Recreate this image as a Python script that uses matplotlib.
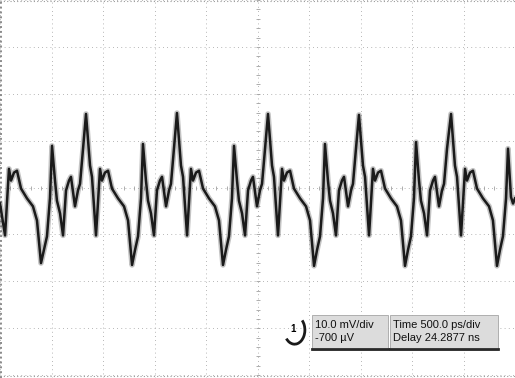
import numpy as np
import matplotlib
matplotlib.use("Agg")
import matplotlib.pyplot as plt
from matplotlib.patches import Rectangle, Arc

# scope settings
volts_per_div = 10.0   # mV/div
time_per_div = 0.5     # ns/div (500 ps/div)
n_xdiv = 10
n_ydiv = 8

# trace: time (ns) and voltage (mV, relative to screen centre)
time_ns = [
    0.000, 0.049, 0.087, 0.107, 0.136, 0.165, 0.204, 0.262, 0.320, 0.359, 0.398, 0.427, 0.456,
    0.485, 0.505, 0.534, 0.553, 0.583, 0.612, 0.641, 0.670, 0.689, 0.728, 0.757, 0.777, 0.806,
    0.835, 0.874, 0.893, 0.932, 0.971, 0.990, 1.019, 1.049, 1.087, 1.146, 1.204, 1.243, 1.282,
    1.311, 1.340, 1.369, 1.388, 1.417, 1.437, 1.466, 1.495, 1.524, 1.553, 1.573, 1.612, 1.641,
    1.660, 1.689,
    1.718, 1.757, 1.777, 1.816, 1.854, 1.874, 1.903, 1.932, 1.971, 2.029, 2.087, 2.126, 2.165,
    2.194, 2.223, 2.252, 2.272, 2.301, 2.320, 2.350, 2.379, 2.408, 2.437, 2.456, 2.495, 2.524,
    2.544, 2.573,
    2.602, 2.641, 2.660, 2.699, 2.738, 2.757, 2.786, 2.816, 2.854, 2.913, 2.971, 3.010, 3.049,
    3.078, 3.107, 3.136, 3.155, 3.184, 3.204, 3.233, 3.262, 3.291, 3.320, 3.340, 3.379, 3.408,
    3.427, 3.456,
    3.485, 3.524, 3.544, 3.583, 3.621, 3.641, 3.670, 3.699, 3.738, 3.796, 3.854, 3.893, 3.932,
    3.961, 3.990, 4.019, 4.039, 4.068, 4.087, 4.117, 4.146, 4.175, 4.204, 4.223, 4.262, 4.291,
    4.311, 4.340,
    4.379, 4.417, 4.437, 4.476, 4.515, 4.534, 4.563, 4.592, 4.631, 4.689, 4.748, 4.786, 4.825,
    4.854, 4.883, 4.913, 4.932, 4.961, 4.981, 5.000,
]
volt_mv = [
    -3.4, -10.2, 4.0, 1.5, 3.2, 3.6, -0.2, -2.3, -4.0, -7.0, -16.1, -13.3, -10.4,
    -2.3, 8.9, 1.5, -2.8, -5.5, -10.2, -0.6, 1.5, 2.3, -4.0, -0.6, 0.8, 8.3,
    15.7, 4.7, 2.3, -10.2, 4.0, 1.5, 3.2, 3.6, -0.2, -2.3, -4.0, -7.0, -16.5,
    -13.3, -10.4, -2.3, 9.3, 1.5, -2.8, -5.5, -10.2, -0.6, 1.5, 2.3, -4.0, -0.6,
    0.8, 8.3,
    15.9, 4.7, 2.3, -10.2, 4.0, 1.5, 3.2, 3.6, -0.2, -2.3, -4.0, -7.0, -16.5,
    -13.3, -10.4, -2.3, 8.9, 1.5, -2.8, -5.5, -10.2, -0.6, 1.5, 2.3, -4.0, -0.6,
    0.8, 8.3,
    15.7, 4.7, 2.3, -10.2, 4.0, 1.5, 3.2, 3.6, -0.2, -2.3, -4.0, -7.0, -16.7,
    -13.3, -10.4, -2.3, 9.3, 1.5, -2.8, -5.5, -10.2, -0.6, 1.5, 2.3, -4.0, -0.6,
    0.8, 8.3,
    15.5, 4.7, 2.3, -10.2, 4.0, 1.5, 3.2, 3.6, -0.2, -2.3, -4.0, -7.0, -16.7,
    -13.3, -10.4, -2.3, 9.7, 1.5, -2.8, -5.5, -10.2, -0.6, 1.5, 2.3, -4.0, -0.6,
    0.8, 8.3,
    15.7, 4.7, 2.3, -10.2, 4.0, 1.5, 3.2, 3.6, -0.2, -2.3, -4.0, -7.0, -16.7,
    -13.3, -10.4, -2.3, 8.3, -2.0, -3.4, -2.3,
]

readout_volt = ["10.0 mV/div", "-700 \u00b5V"]
readout_time = ["Time 500.0 ps/div", "Delay 24.2877 ns"]

fig = plt.figure(figsize=(5.15, 3.78), dpi=100)
ax = fig.add_axes([0, 0, 1, 1])
ax.set_xlim(0, n_xdiv * time_per_div)
ax.set_ylim(-n_ydiv / 2 * volts_per_div - 0.6, n_ydiv / 2 * volts_per_div)
ax.set_xticks([])
ax.set_yticks([])
for s in ax.spines.values():
    s.set_visible(False)

# graticule - faint dotted
grid_kw = dict(color="#9e9e9e", lw=0.6, ls=(0, (1, 4)), zorder=1)
for i in range(n_xdiv + 1):
    ax.axvline(i * time_per_div, **grid_kw)
for j in range(n_ydiv + 1):
    ax.axhline(-40 + j * volts_per_div, **grid_kw)
ax.axvline(0.006, color="#8a8a8a", lw=1.4, ls=(0, (1, 1.5)), zorder=1)
ax.axhline(39.8, color="#9a9a9a", lw=0.8, ls=(0, (1, 2)), zorder=1)
ax.axhline(-40.2, color="#9a9a9a", lw=0.8, ls=(0, (1, 2)), zorder=1)

# small ticks on the centre cross
tx = np.arange(0, 5.001, time_per_div / 5)
ax.plot(tx, np.zeros_like(tx), ls="none", marker="|", ms=2.5, color="#a0a0a0", mew=0.6)
ty = np.arange(-40, 40.01, volts_per_div / 5)
ax.plot(np.full_like(ty, 2.5), ty, ls="none", marker="_", ms=2.5, color="#a0a0a0", mew=0.6)

# the trace: a fuzzy band plus a darker core
ax.plot(time_ns, volt_mv, color="#555555", lw=4.0, alpha=0.35, zorder=2,
        solid_joinstyle="round")
ax.plot(time_ns, volt_mv, color="#1a1a1a", lw=1.8, zorder=3, solid_joinstyle="round")

# readout boxes
box_kw = dict(transform=ax.transAxes, facecolor="#dcdcdc", edgecolor="#a5a5a5", lw=0.6, zorder=4)
ax.add_patch(Rectangle((0.606, 0.074), 0.147, 0.093, **box_kw))
ax.add_patch(Rectangle((0.757, 0.074), 0.210, 0.093, **box_kw))
ax.plot([0.606, 0.753], [0.076, 0.076], transform=ax.transAxes, color="#2a2a2a", lw=2, zorder=5)
ax.plot([0.757, 0.967], [0.076, 0.076], transform=ax.transAxes, color="#2a2a2a", lw=2, zorder=5)

txt_kw = dict(transform=ax.transAxes, fontsize=8, family="Liberation Sans", color="#111111",
              va="center", ha="left", zorder=6)
ax.text(0.612, 0.141, readout_volt[0], **txt_kw)
ax.text(0.612, 0.106, readout_volt[1], **txt_kw)
ax.text(0.763, 0.141, readout_time[0], **txt_kw)
ax.text(0.763, 0.106, readout_time[1], **txt_kw)

# channel 1 marker
ax.text(0.569, 0.13, "1", transform=ax.transAxes, fontsize=7, family="Liberation Sans",
        fontweight="bold", va="center", ha="center", zorder=6)
ax.add_patch(Arc((0.572, 0.127), 0.04, 0.075, theta1=-125, theta2=60, transform=ax.transAxes,
                 color="#1a1a1a", lw=2, zorder=6))

fig.savefig("out.png", dpi=100)
